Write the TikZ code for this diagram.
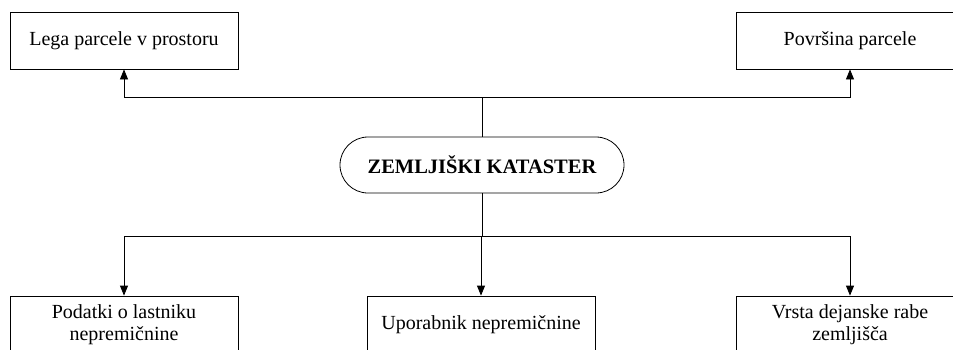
\documentclass[tikz,border=0pt]{standalone}
\usepackage{fontspec}
\setmainfont{Liberation Serif}
\usetikzlibrary{arrows.meta}
\begin{document}
\begin{tikzpicture}[x=1pt,y=-1pt,
  box/.style={draw=black, line width=0.8pt, minimum width=228pt, minimum height=57pt,
    inner sep=0pt, align=center, font=\fontsize{20}{22.5}\selectfont},
  hub/.style={draw=black, line width=0.8pt, minimum width=284pt, minimum height=56pt,
    rounded corners=28pt, inner sep=0pt, font=\fontsize{20.5}{23}\selectfont\bfseries},
  link/.style={draw=black, line width=0.8pt},
  arrowlink/.style={link, -{Triangle[width=8pt,length=10pt]}}]
\clip (0,0) rectangle (953,349);
\fill[white] (0,0) rectangle (953,349);

% central element
\node[hub] (zk) at (482,165) {ZEMLJIŠKI KATASTER};

% upper boxes
\node[box] (lega) at (124,40.5) {Lega parcele v prostoru};
\node[box] (povr) at (850,40.5) {Površina parcele};

% lower boxes
\node[box] (lastnik) at (124,324.5) {Podatki o lastniku\\nepremičnine};
\node[box] (upor) at (481,324.5) {Uporabnik nepremičnine};
\node[box] (raba) at (850,324.5) {Vrsta dejanske rabe\\zemljišča};

% branching points
\coordinate (jt) at (482,97);
\coordinate (jb) at (482,236);

% connectors
\draw[link] (zk.north) -- (jt);
\draw[arrowlink] (jt) -| (lega.south);
\draw[arrowlink] (jt) -| (povr.south);
\draw[link] (zk.south) -- (jb);
\draw[arrowlink] (jb) -| (lastnik.north);
\draw[arrowlink] (jb) -| (upor.north);
\draw[arrowlink] (jb) -| (raba.north);
\end{tikzpicture}
\end{document}
